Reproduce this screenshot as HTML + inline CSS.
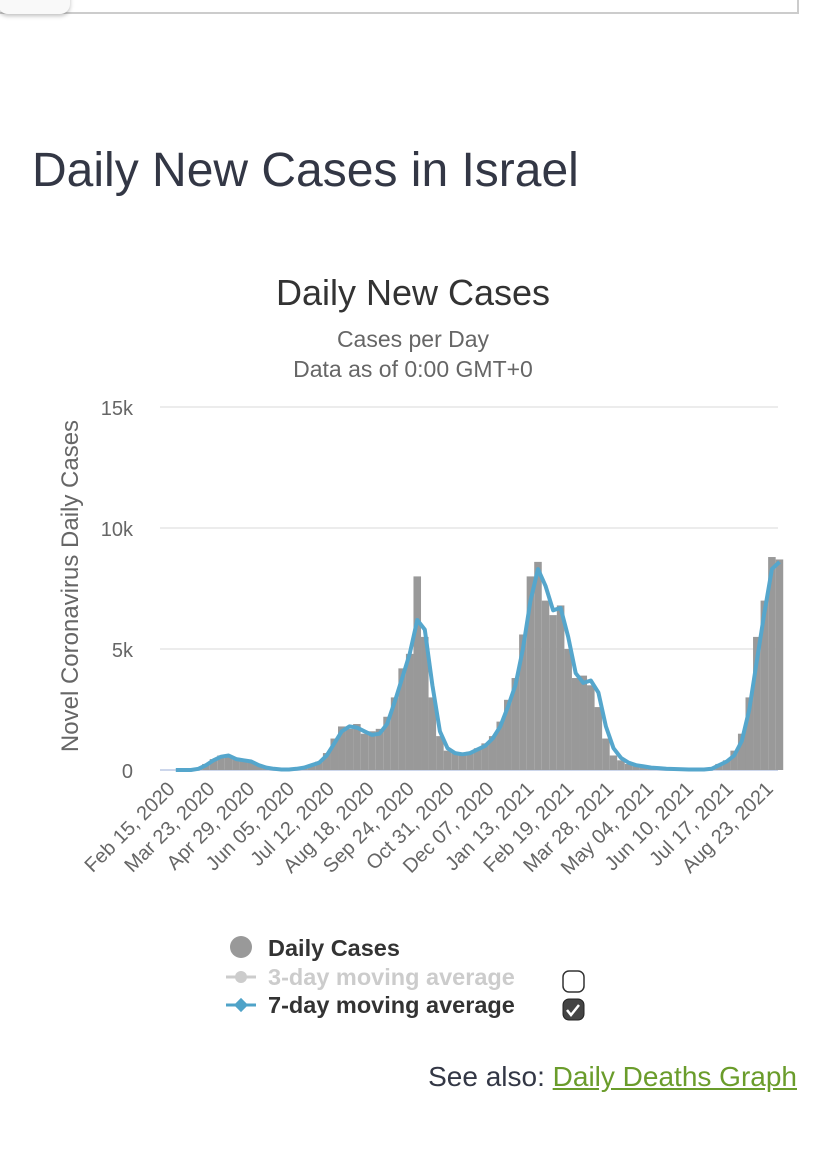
<!DOCTYPE html>
<html><head><meta charset="utf-8"><style>
body{margin:0;width:828px;height:1172px;background:#fff;font-family:"Liberation Sans",sans-serif;position:relative;overflow:hidden}
.a{position:absolute}
</style></head><body>
<div class="a" style="left:-2px;top:-10px;width:797px;height:22px;border:2px solid #ccc;border-top:none"></div>
<div class="a" style="left:-2px;top:-10px;width:72px;height:24px;background:#f9f9f9;border-radius:0 0 10px 10px;box-shadow:0 2px 4px rgba(0,0,0,.25)"></div>
<div class="a" style="left:32px;top:143px;font-size:48px;color:#333745">Daily New Cases in Israel</div>
<svg class="a" style="left:0;top:0" width="828" height="1172" id="svg">
<text x="413" y="305" text-anchor="middle" font-size="36" fill="#333">Daily New Cases</text>
<text x="413" y="347" text-anchor="middle" font-size="23" fill="#666">Cases per Day</text>
<text x="413" y="377" text-anchor="middle" font-size="23" fill="#666">Data as of 0:00 GMT+0</text>
<text transform="translate(78,586) rotate(-90)" text-anchor="middle" font-size="24" fill="#666">Novel Coronavirus Daily Cases</text>
<g id="grid"></g><g id="bars"></g><g id="line"></g><g id="xl"></g>
<g>
<circle cx="241" cy="947" r="11" fill="#999"/>
<text x="268" y="956" font-size="23.5" font-weight="bold" fill="#333">Daily Cases</text>
<line x1="226" y1="977" x2="256" y2="977" stroke="#ccc" stroke-width="3"/><circle cx="241" cy="977" r="6" fill="#ccc"/>
<text x="268" y="985" font-size="23.5" font-weight="bold" fill="#ccc">3-day moving average</text>
<line x1="226" y1="1005" x2="256" y2="1005" stroke="#4fa3c8" stroke-width="3"/><rect x="236" y="1000" width="10" height="10" fill="#4fa3c8" transform="rotate(45 241 1005)"/>
<text x="268" y="1013" font-size="23.5" font-weight="bold" fill="#333">7-day moving average</text>
<rect x="563" y="971" width="21" height="21" rx="6" fill="#fff" stroke="#333" stroke-width="1.5"/>
<rect x="563" y="999" width="21" height="21" rx="6" fill="#444" stroke="#222"/>
<path d="M567 1010 l4 5 l8 -10" stroke="#fff" stroke-width="2.5" fill="none"/>
</g>
</svg>
<div class="a" style="right:31px;top:1061px;font-size:28px;color:#333745">See also: <span style="color:#6a9c2b;text-decoration:underline">Daily Deaths Graph</span></div>
<script>
const avg7=[0,0,0,0.05,0.2,0.4,0.55,0.6,0.45,0.4,0.35,0.2,0.1,0.05,0.02,0.02,0.05,0.1,0.2,0.3,0.6,1.1,1.6,1.8,1.75,1.6,1.45,1.5,1.9,2.8,3.8,4.8,6.2,5.8,3.5,1.6,0.9,0.7,0.65,0.7,0.85,1.0,1.3,1.8,2.6,3.5,5.0,7.0,8.3,7.6,6.6,6.7,5.5,4.0,3.6,3.7,3.2,1.8,0.9,0.5,0.3,0.2,0.15,0.1,0.08,0.05,0.04,0.03,0.02,0.02,0.02,0.05,0.2,0.35,0.6,1.2,2.5,4.5,6.5,8.3,8.6];
const cases=[0,0,0,0.06,0.25,0.45,0.6,0.55,0.5,0.4,0.3,0.2,0.1,0.05,0.02,0.03,0.06,0.12,0.22,0.35,0.7,1.3,1.8,1.7,1.9,1.5,1.6,1.7,2.2,3.0,4.2,4.8,8.0,5.5,3.0,1.4,0.8,0.7,0.7,0.75,0.9,1.1,1.4,2.0,2.9,3.8,5.6,8.0,8.6,7.0,6.4,6.8,5.0,3.8,3.9,3.5,2.6,1.3,0.6,0.4,0.25,0.2,0.12,0.1,0.07,0.05,0.04,0.03,0.02,0.02,0.03,0.08,0.25,0.4,0.8,1.5,3.0,5.5,7.0,8.8,8.7];
const yTicks=[0,5,10,15];
const xLabels=["Feb 15, 2020","Mar 23, 2020","Apr 29, 2020","Jun 05, 2020","Jul 12, 2020","Aug 18, 2020","Sep 24, 2020","Oct 31, 2020","Dec 07, 2020","Jan 13, 2021","Feb 19, 2021","Mar 28, 2021","May 04, 2021","Jun 10, 2021","Jul 17, 2021","Aug 23, 2021"];
const NS="http://www.w3.org/2000/svg";
const X0=172,PXD=1.078,Y0=770,PXK=24.2;
const xw=w=>X0+w*7*PXD, xd=d=>X0+d*PXD, y=v=>Y0-v*PXK;
function mk(t,a,p){const e=document.createElementNS(NS,t);for(const k in a)e.setAttribute(k,a[k]);document.getElementById(p).appendChild(e);return e;}
yTicks.forEach(v=>{
 const l=mk('line',{x1:160,x2:778,y1:y(v),y2:y(v),stroke:v?'#e6e6e6':'#ccd6eb','stroke-width':v?1.5:2},'grid');
 
 
 const t=mk('text',{x:133,y:y(v)+8,'text-anchor':'end','font-size':20,fill:'#666'},'grid');
 t.textContent=v?v+'k':'0';
 
 
});
cases.forEach((v,i)=>{
 const r=mk('rect',{x:xw(i),y:y(v),width:7*PXD,height:v*PXK,fill:'#999'},'bars');
 
 
});
const p=mk('path',{d:avg7.map((v,i)=>(i?'L':'M')+(xw(i)+3.8).toFixed(1)+' '+y(v).toFixed(1)).join(''),fill:'none',stroke:'#55a6cc','stroke-width':4,'stroke-linejoin':'round'},'line');


xLabels.forEach((s,i)=>{
 const x=xd(i*37)+4;
 const t=mk('text',{x:x,y:790,'text-anchor':'end','font-size':20,fill:'#666',transform:`rotate(-45 ${x} 790)`},'xl');
 t.textContent=s;
 
 
});
</script>
</body></html>
